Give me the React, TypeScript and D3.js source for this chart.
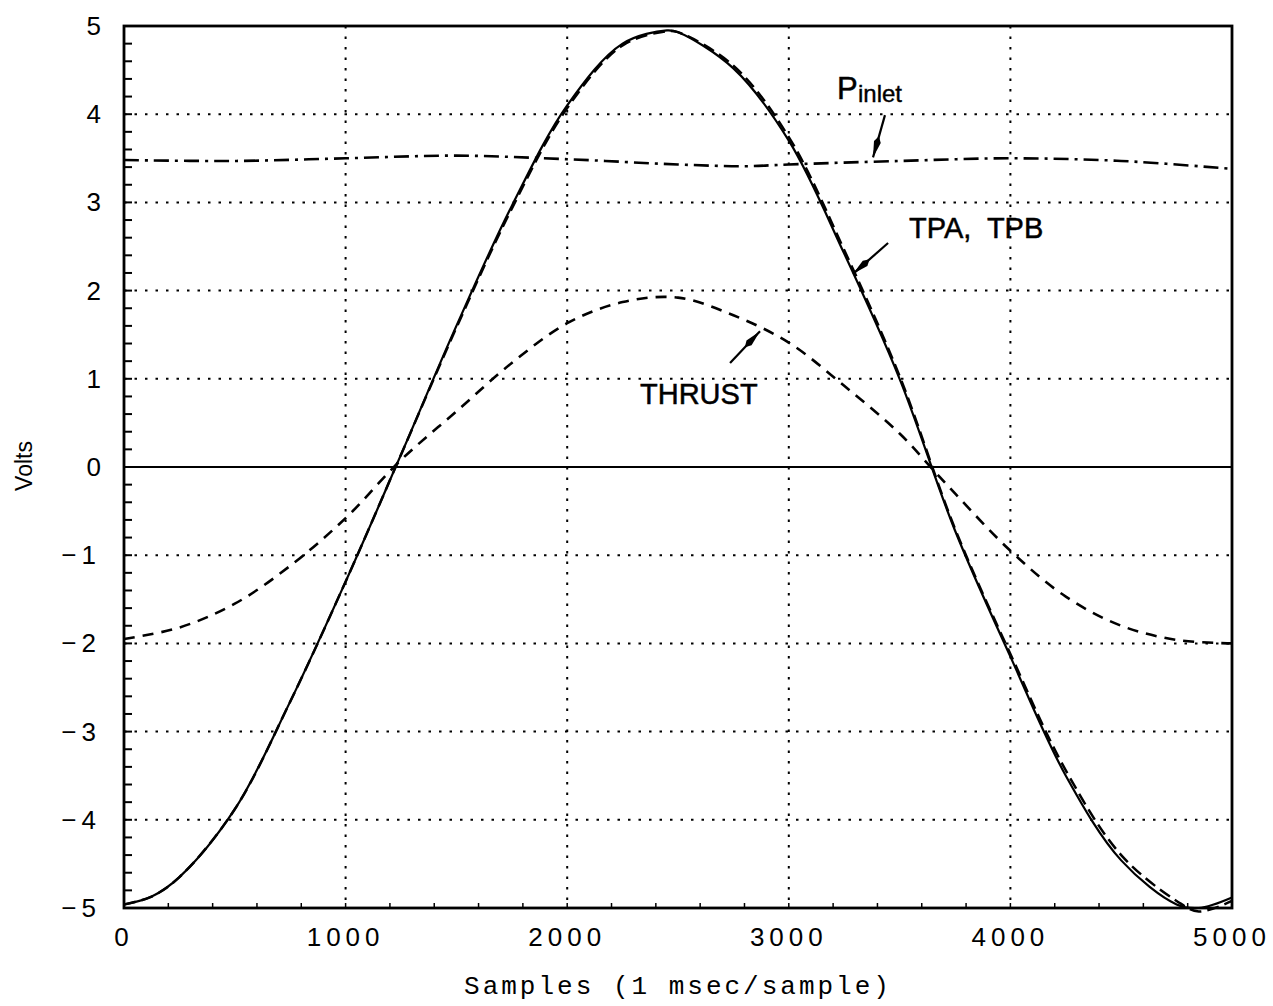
import React from "react";
import * as d3 from "d3";

const samples = [0, 125, 250, 500, 750, 1000, 1250, 1500, 1750, 2000, 2250, 2450, 2500, 2750, 3000, 3250, 3500, 3750, 4000, 4250, 4500, 4750, 4850, 5000];
const tpa = [-4.96, -4.87, -4.65, -3.88, -2.66, -1.3, 0.14, 1.6, 2.96, 4.1, 4.8, 4.95, 4.93, 4.52, 3.7, 2.42, 1.0, -0.72, -2.15, -3.5, -4.46, -4.96, -5.0, -4.88];
const tpb = [-4.96, -4.87, -4.65, -3.88, -2.66, -1.3, 0.14, 1.58, 2.93, 4.07, 4.78, 4.94, 4.93, 4.55, 3.74, 2.46, 1.03, -0.7, -2.12, -3.44, -4.4, -4.92, -5.04, -4.92];
const thrustSamples = [0, 250, 500, 750, 1000, 1250, 1500, 1750, 2000, 2250, 2500, 2750, 3000, 3250, 3500, 3640, 3750, 4000, 4250, 4500, 4750, 5000];
const thrust = [-1.95, -1.82, -1.55, -1.12, -0.58, 0.08, 0.63, 1.18, 1.63, 1.87, 1.92, 1.72, 1.41, 0.92, 0.38, 0.0, -0.3, -0.95, -1.47, -1.8, -1.96, -2.0];
const pinletSamples = [0, 500, 1000, 1500, 2000, 2500, 2800, 3000, 3500, 4000, 4500, 5000];
const pinlet = [3.48, 3.47, 3.5, 3.53, 3.49, 3.43, 3.41, 3.43, 3.47, 3.5, 3.47, 3.38];

const xTicks = [0, 1000, 2000, 3000, 4000, 5000];
const yTicks = [-5, -4, -3, -2, -1, 0, 1, 2, 3, 4, 5];

const annotations = [
  { from: [3434, 3.99], to: [3380, 3.51] },
  { from: [3448, 2.54], to: [3290, 2.19] },
  { from: [2735, 1.18], to: [2870, 1.54] },
];

const W = 1273, H = 1006;
const L = 124, R = 1232, T = 26, B = 908;

export default function App() {
  const x = d3.scaleLinear().domain([0, 5000]).range([L, R]);
  const y = d3.scaleLinear().domain([-5, 5]).range([B, T]);
  const line = (xs: number[], ys: number[]) =>
    d3.line<number>().x((_, i) => x(xs[i])).y((d) => y(d)).curve(d3.curveCatmullRom.alpha(0.5))(ys) || "";

  const minorY = d3.range(-5, 5.001, 0.2);
  const minorX = d3.range(0, 5001, 200);

  const arrow = (a: { from: number[]; to: number[] }, i: number) => {
    const x1 = x(a.from[0]), y1 = y(a.from[1]), x2 = x(a.to[0]), y2 = y(a.to[1]);
    const dx = x2 - x1, dy = y2 - y1, len = Math.hypot(dx, dy);
    const ux = dx / len, uy = dy / len;
    const bx = x2 - ux * 16, by = y2 - uy * 16;
    const hw = 3.5;
    const pts = [
      [x2, y2],
      [bx - uy * hw, by + ux * hw],
      [x2 - ux * 22, y2 - uy * 22],
      [bx + uy * hw, by - ux * hw],
    ];
    return (
      <g key={i}>
        <line x1={x1} y1={y1} x2={x2} y2={y2} stroke="#000" strokeWidth={2.2} />
        <polygon points={pts.map((p) => p.join(",")).join(" ")} fill="#000" />
      </g>
    );
  };

  const sans = "'Liberation Sans', Arial, sans-serif";

  return (
    <svg width={W} height={H} style={{ position: "absolute", left: 0, top: 0, background: "#fff" }}>
      <rect width={W} height={H} fill="#fff" />
      {/* grid */}
      {yTicks.filter((v) => v !== 0 && v !== 5 && v !== -5).map((v) => (
        <line key={"gy" + v} x1={L} x2={R} y1={y(v)} y2={y(v)} stroke="#000" strokeWidth={2} strokeDasharray="2.5 8" />
      ))}
      {xTicks.filter((v) => v !== 0 && v !== 5000).map((v) => (
        <line key={"gx" + v} y1={T} y2={B} x1={x(v)} x2={x(v)} stroke="#000" strokeWidth={2} strokeDasharray="2.5 8" />
      ))}
      <line x1={L} x2={R} y1={y(0)} y2={y(0)} stroke="#000" strokeWidth={2} />
      {/* minor ticks */}
      {minorY.map((v, i) => (
        <line key={"my" + i} x1={L} x2={L + 8} y1={y(v)} y2={y(v)} stroke="#000" strokeWidth={2} />
      ))}
      {minorX.map((v, i) => (
        <line key={"mx" + i} x1={x(v)} x2={x(v)} y1={B} y2={B - 5} stroke="#000" strokeWidth={1.5} />
      ))}
      {/* curves */}
      <path d={line(samples, tpb)} fill="none" stroke="#000" strokeWidth={2.5} strokeDasharray="12 6" />
      <path d={line(samples, tpa)} fill="none" stroke="#000" strokeWidth={2.2} />
      <path d={line(thrustSamples, thrust)} fill="none" stroke="#000" strokeWidth={2.6} strokeDasharray="11 8" />
      <path d={line(pinletSamples, pinlet)} fill="none" stroke="#000" strokeWidth={2.6} strokeDasharray="15 6 3 6" />
      {/* frame */}
      <rect x={L} y={T} width={R - L} height={B - T} fill="none" stroke="#000" strokeWidth={2.8} />
      {/* tick labels */}
      {yTicks.map((v) => (
        <text key={"ly" + v} x={101} y={y(v) + 9} textAnchor="end" fontFamily={sans} fontSize={26} letterSpacing={v < 0 ? 5 : 0}>
          {v < 0 ? "\u2212" + Math.abs(v) : String(v)}
        </text>
      ))}
      {xTicks.map((v) => (
        <text key={"lx" + v} x={x(v)} y={946} textAnchor="middle" fontFamily={sans} fontSize={26} letterSpacing={5}>
          {String(v)}
        </text>
      ))}
      {/* axis titles */}
      <text transform={`translate(32,466) rotate(-90)`} textAnchor="middle" fontFamily={sans} fontSize={23}>
        Volts
      </text>
      <text x={678} y={994} textAnchor="middle" fontFamily="'Liberation Mono', 'Courier New', monospace" fontSize={26} letterSpacing={3}>
        Samples (1 msec/sample)
      </text>
      {/* annotations */}
      {annotations.map(arrow)}
      <text x={837} y={99} fontFamily={sans} fontSize={31} stroke="#000" strokeWidth={0.5}>P</text>
      <text x={858} y={102} fontFamily={sans} fontSize={24} stroke="#000" strokeWidth={0.4}>inlet</text>
      <text x={909} y={238} fontFamily={sans} fontSize={29} stroke="#000" strokeWidth={0.5} style={{ whiteSpace: "pre" }}>
        {"TPA,  TPB"}
      </text>
      <text x={640} y={404} fontFamily={sans} fontSize={29} stroke="#000" strokeWidth={0.5}>THRUST</text>
    </svg>
  );
}
